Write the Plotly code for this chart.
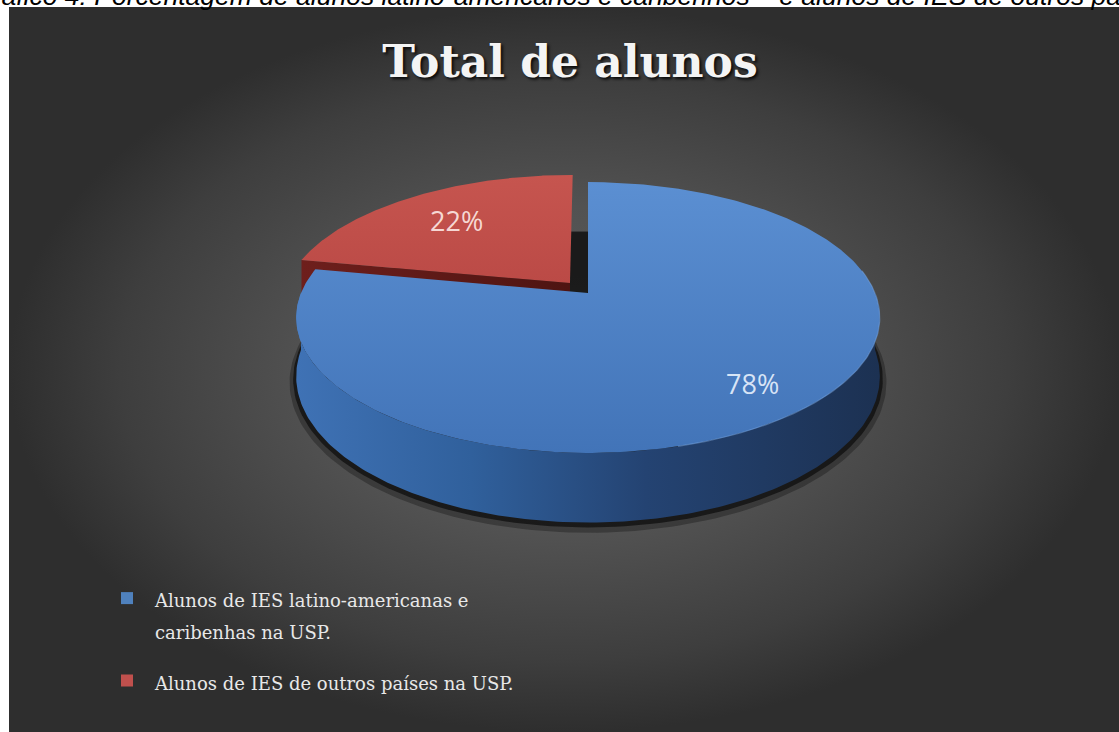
import numpy as np
import plotly.graph_objects as go

# ---------------- data ----------------
caption = ("Gráfico 4: Porcentagem de alunos latino-americanos e caribenhos – "
           "e alunos de IES de outros países na USP")
title_text = "Total de alunos"
categories = ["Alunos de IES latino-americanas e<br>caribenhas na USP.",
              "Alunos de IES de outros países na USP."]
values = [78, 22]

# ---------------- style ----------------
top_scales = [[[0, "#4274b8"], [1, "#5b8fd2"]],
              [[0, "#bb4a46"], [1, "#c6554f"]]]
wall_scales = [[[0, "#3f72b5"], [0.3, "#30609c"], [0.6, "#244372"], [1, "#1c3152"]],
               [[0, "#6e1f1c"], [1, "#4e1412"]]]
legend_colors = ["#4f81bd", "#c0504d"]
label_colors = ["rgba(225,236,250,0.95)", "rgba(250,225,222,0.95)"]
explode = [0.0, 0.1]
label_r = [0.8, 0.7]

W, H = 1119, 732
CX, CY = 588, 293      # pie centre on screen
RAD, RK = 287, 131     # horizontal / vertical radius
DIST = 5.53            # perspective distance
DEPTH = 57             # thickness
START = 90.0           # first slice starts at 12 o'clock, goes clockwise


def proj(X, Z, Yd=0.0):
    s = DIST / (DIST + Z)
    return CX + RAD * X * s, CY - RK * Z * s + DEPTH * Yd * s


fig = go.Figure()

# background with radial gradient
fig.add_trace(go.Scatter(
    x=[9, W, W, 9, 9], y=[7, 7, H, H, 7], mode="lines", line=dict(width=0),
    fill="toself", fillcolor="#3a3a3a",
    fillgradient=dict(type="radial",
                      colorscale=[[0, "#5e5e5e"], [0.45, "#525252"], [0.8, "#3e3e3e"], [1, "#2e2e2e"]]),
    hoverinfo="skip", showlegend=False))

# slice angles (ccw math degrees)
total = sum(values)
spans = []
a_end = START
for v in values:
    sweep = 360.0 * v / total
    spans.append((a_end - sweep, a_end))
    a_end -= sweep

# tight drop shadow beneath the pie
th = np.radians(np.linspace(0, 360, 241))
for sc, yd, op in [(1.022, 1.08, 0.3), (1.01, 1.04, 0.65)]:
    xs, ys = proj(sc * np.cos(th), sc * np.sin(th), yd)
    fig.add_trace(go.Scatter(x=xs, y=ys, mode="lines", line=dict(width=0),
                             fill="toself", fillcolor=f"rgba(8,8,8,{op})",
                             hoverinfo="skip", showlegend=False))

# draw back slices first (red), then blue
order = sorted(range(len(values)), key=lambda i: -np.sin(np.radians(sum(spans[i]) / 2)))
for i in order:
    t0, t1 = spans[i]
    mid = np.radians((t0 + t1) / 2)
    ox, oz = explode[i] * np.cos(mid), explode[i] * np.sin(mid)

    # radial faces facing the viewer
    for t, nrm in [(t0, t0 - 90), (t1, t1 + 90)]:
        if np.sin(np.radians(nrm)) < -0.05:
            r = np.linspace(0, 1, 30)
            X = ox + r * np.cos(np.radians(t))
            Z = oz + r * np.sin(np.radians(t))
            xt, yt = proj(X, Z, 0)
            xb, yb = proj(X[::-1], Z[::-1], 1)
            fig.add_trace(go.Scatter(
                x=np.r_[xt, xb, xt[:1]], y=np.r_[yt, yb, yt[:1]], mode="lines", line=dict(width=0),
                fill="toself", fillcolor=wall_scales[i][0][1],
                fillgradient=dict(type="horizontal", colorscale=wall_scales[i]),
                hoverinfo="skip", showlegend=False))

    # outer wall (front part)
    lo, hi = max(t0, -180.0), min(t1, 0.0)
    if hi > lo:
        tt = np.radians(np.linspace(lo, hi, 200))
        X, Z = ox + np.cos(tt), oz + np.sin(tt)
        xt, yt = proj(X, Z, 0)
        xb, yb = proj(X[::-1], Z[::-1], 1)
        fig.add_trace(go.Scatter(
            x=np.r_[xt, xb, xt[:1]], y=np.r_[yt, yb, yt[:1]], mode="lines", line=dict(width=0),
            fill="toself", fillcolor=wall_scales[i][0][1],
            fillgradient=dict(type="horizontal", colorscale=wall_scales[i]),
            hoverinfo="skip", showlegend=False))

    # top face
    tt = np.radians(np.linspace(t0, t1, 300))
    X = np.r_[ox, ox + np.cos(tt), ox]
    Z = np.r_[oz, oz + np.sin(tt), oz]
    xs, ys = proj(X, Z, 0)
    fig.add_trace(go.Scatter(
        x=xs, y=ys, mode="lines", line=dict(width=0),
        fill="toself", fillcolor=top_scales[i][0][1],
        fillgradient=dict(type="vertical", colorscale=top_scales[i]),
        hoverinfo="skip", showlegend=False))

    # subtle rim highlight on the right front edge
    lo2, hi2 = max(t0, -75.0), min(t1, 10.0)
    if hi2 > lo2:
        tt = np.radians(np.linspace(lo2, hi2, 120))
        xs, ys = proj(ox + np.cos(tt), oz + np.sin(tt), 0)
        fig.add_trace(go.Scatter(x=xs, y=ys, mode="lines",
                                 line=dict(width=1.2, color="rgba(125,170,230,0.45)"),
                                 hoverinfo="skip", showlegend=False))

    # percentage label
    lx, ly = proj(ox + label_r[i] * np.cos(mid), oz + label_r[i] * np.sin(mid), 0)
    fig.add_annotation(x=float(lx), y=float(ly), xref="x", yref="y",
                       text=f"{values[i]}%", showarrow=False,
                       font=dict(family="Open Sans", size=27, color=label_colors[i]))

# legend entries
for i, cat in enumerate(categories):
    fig.add_trace(go.Scatter(
        x=[None], y=[None], mode="markers",
        marker=dict(symbol="square", size=12, color=legend_colors[i]),
        name=f'<span style="font-size:18px">{cat}</span>',
        legendgroup=str(i), showlegend=True))

# caption (cut at the top of the page)
fig.add_annotation(x=-30 / W, y=1, xref="paper", yref="paper", xanchor="left", yanchor="top",
                   yshift=21, text=caption, showarrow=False, align="left",
                   font=dict(family="Liberation Sans", size=26.5, color="black", style="italic"))

fig.update_layout(
    width=W, height=H, autosize=False,
    margin=dict(l=0, r=0, t=0, b=0, pad=0),
    paper_bgcolor="white", plot_bgcolor="white",
    xaxis=dict(range=[0, W], visible=False, fixedrange=True),
    yaxis=dict(range=[H, 0], visible=False, fixedrange=True),
    title=dict(text=title_text, x=570 / W, xanchor="center", y=1 - 62 / H, yanchor="middle",
               yref="container",
               font=dict(family="DejaVu Serif", size=44, color="#f4f4f4", weight="bold",
                         shadow="2px 2px 3px rgba(0,0,0,0.85)")),
    legend=dict(x=99 / W, y=1 - 576 / H, xanchor="left", yanchor="top",
                bgcolor="rgba(0,0,0,0)", valign="top", itemwidth=46, tracegroupgap=17,
                font=dict(family="DejaVu Serif", size=24, color="#e8e8e8")),
    showlegend=True,
)

fig.write_html("out.html")
